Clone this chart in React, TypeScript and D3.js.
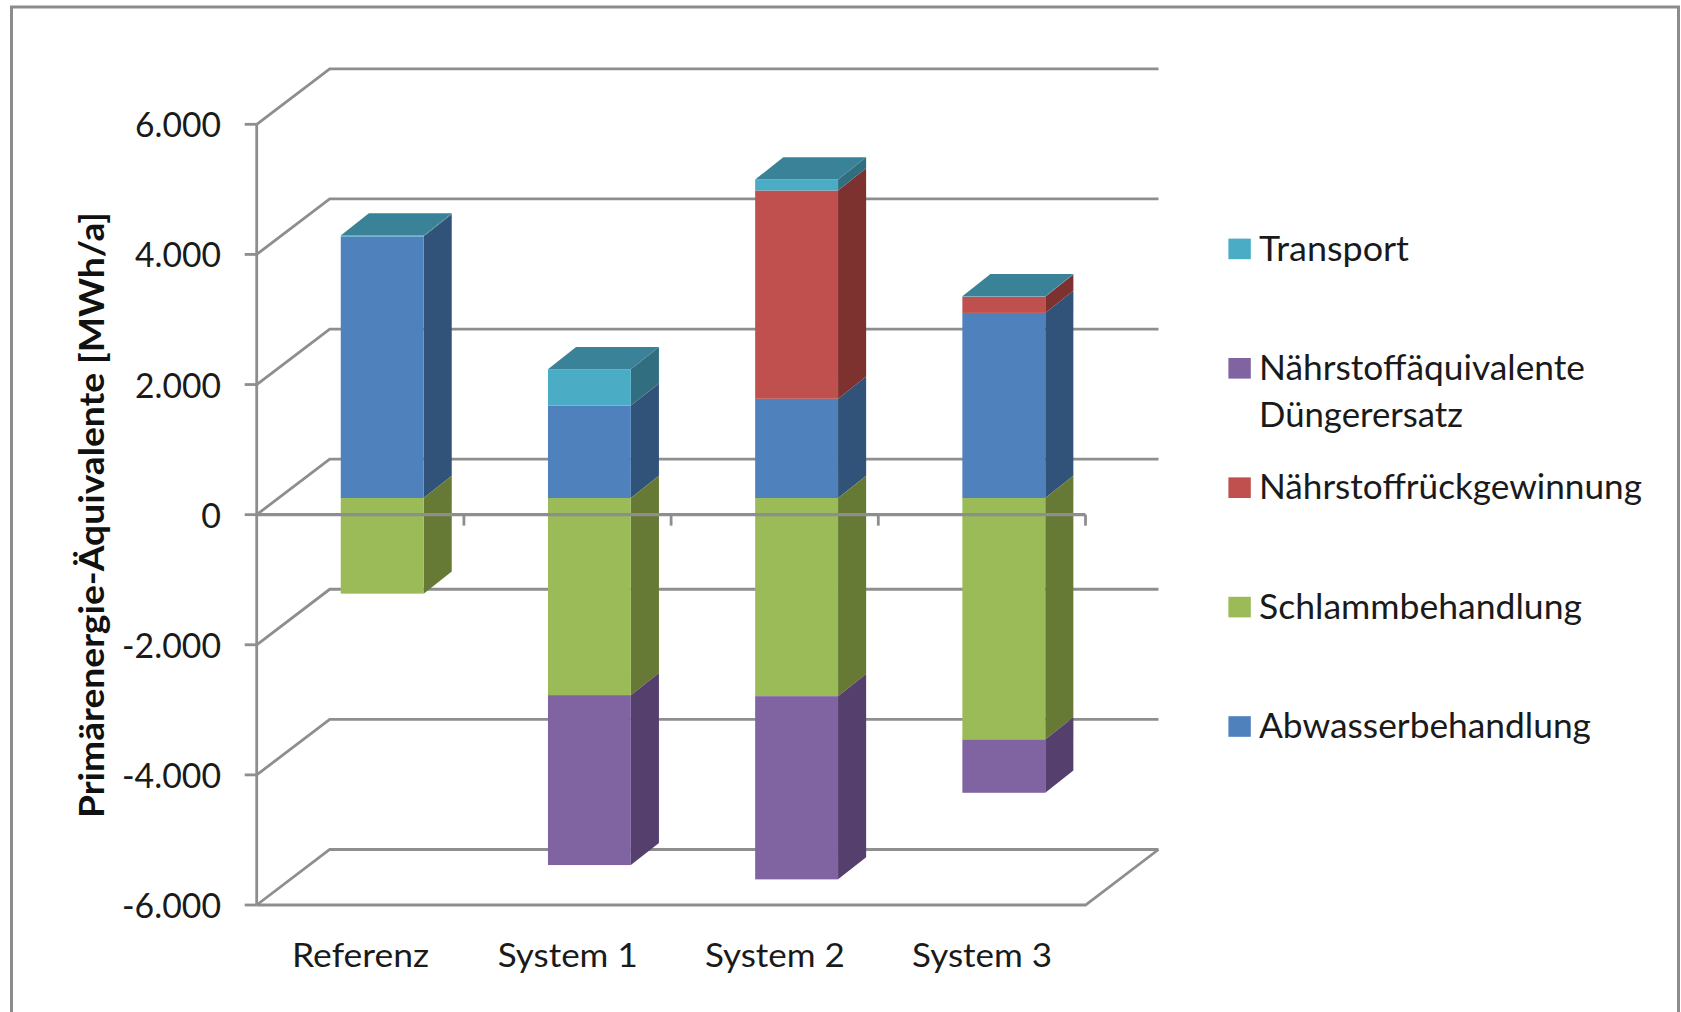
import React from "react";
import * as d3 from "d3";

// Primary energy balance per system, MWh/a
const categories = ["Referenz", "System 1", "System 2", "System 3"];
const abwasser = [4020, 1420, 1525, 2845];
const schlamm = [-1470, -3030, -3046, -3711];
const rueckgewinnung = [0, 0, 3201, 250];
const aequivalente = [0, -2612, -2816, -820];
const transport = [15, 559, 169, 6];
const yTicks = [6000, 4000, 2000, 0, -2000, -4000, -6000];
const yTickLabels = ["6.000", "4.000", "2.000", "0", "-2.000", "-4.000", "-6.000"];

const seriesKeys = ["abwasser", "schlamm", "rueckgewinnung", "aequivalente", "transport"];
const seriesValues: Record<string, number[]> = { abwasser, schlamm, rueckgewinnung, aequivalente, transport };
const frontColors: Record<string, string> = {
  abwasser: "#4f81bd",
  schlamm: "#9bbb59",
  rueckgewinnung: "#c0504d",
  aequivalente: "#8064a2",
  transport: "#4bacc6",
};
const sideColors: Record<string, string> = {
  abwasser: "#325379",
  schlamm: "#667a35",
  rueckgewinnung: "#7d3230",
  aequivalente: "#543f6d",
  transport: "#316f80",
};
const topColor = "#3a8297";
const gridColor = "#8e8e8e";
const textColor = "#1a1a1a";

const legendRows = [
  { key: "transport", lines: [{ t: "Transport", w: 150 }] },
  { key: "aequivalente", lines: [{ t: "Nährstoffäquivalente", w: 326 }, { t: "Düngerersatz", w: 204 }] },
  { key: "rueckgewinnung", lines: [{ t: "Nährstoffrückgewinnung", w: 383 }] },
  { key: "schlamm", lines: [{ t: "Schlammbehandlung", w: 323 }] },
  { key: "abwasser", lines: [{ t: "Abwasserbehandlung", w: 332 }] },
];

const WIDTH = 1681;
const HEIGHT = 1012;
const FONT = "Lato, 'Open Sans', sans-serif";

// Oblique depth of the floor and position of the bars within it
const DEPTH_X = 73;
const DEPTH_Y = 55.5;
const BAR_NEAR = 0.3;
const BAR_FAR = 0.685;

const y = d3.scaleLinear().domain([-6000, 6000]).range([905, 124.3]);
const x = d3
  .scaleBand<string>()
  .domain(categories)
  .range([256.7, 1085.5])
  .paddingInner(0.6)
  .paddingOuter(0.3);
const tickX = d3.scaleLinear().domain([0, categories.length]).range([256.7, 1085.5]);

const rows = categories.map((c, i) => {
  const row: Record<string, number | string> = { category: c };
  seriesKeys.forEach((k) => (row[k] = seriesValues[k][i]));
  return row;
});
const stacked = d3
  .stack<any>()
  .keys(seriesKeys)
  .offset(d3.stackOffsetDiverging)(rows);

const poly = (pts: [number, number][]) => pts.map((p) => p.join(",")).join(" ");

function Bar({ index }: { index: number }) {
  const category = categories[index];
  const x0 = (x(category) as number) + DEPTH_X * BAR_NEAR;
  const x1 = x0 + x.bandwidth();
  const lift = DEPTH_Y * BAR_NEAR;
  const dx = DEPTH_X * (BAR_FAR - BAR_NEAR);
  const dy = DEPTH_Y * (BAR_FAR - BAR_NEAR) + 0.8;
  const segments = stacked
    .map((s) => ({ key: s.key, lo: s[index][0], hi: s[index][1] }))
    .filter((s) => s.hi !== s.lo);
  const top = Math.max(...segments.map((s) => s.hi));
  return (
    <g>
      {segments.map((s) => {
        const ya = y(s.hi) - lift;
        const yb = y(s.lo) - lift;
        return (
          <g key={s.key}>
            <polygon
              points={poly([[x1, ya], [x1 + dx, ya - dy], [x1 + dx, yb - dy], [x1, yb]])}
              fill={sideColors[s.key]}
            />
            <rect x={x0} y={ya} width={x1 - x0} height={yb - ya} fill={frontColors[s.key]} />
          </g>
        );
      })}
      <polygon
        points={poly([
          [x0, y(top) - lift],
          [x0 + dx, y(top) - lift - dy],
          [x1 + dx, y(top) - lift - dy],
          [x1, y(top) - lift],
        ])}
        fill={topColor}
      />
    </g>
  );
}

export default function App() {
  const [left, right] = [tickX(0), tickX(categories.length)];
  const stroke = { stroke: gridColor, strokeWidth: 2.8, fill: "none" };
  return (
    <svg
      width={WIDTH}
      height={HEIGHT}
      viewBox={`0 0 ${WIDTH} ${HEIGHT}`}
      style={{ position: "absolute", left: 0, top: 0, background: "#fff" }}
    >
      {/* outer frame, open past the lower edge of the page */}
      <rect x={11.5} y={7} width={1667} height={1030} fill="#fff" stroke="#8c8c8c" strokeWidth={3} />

      {/* back wall and side wall gridlines */}
      {yTicks.map((t) => (
        <polyline
          key={t}
          points={poly([
            [left, y(t)],
            [left + DEPTH_X, y(t) - DEPTH_Y],
            [right + DEPTH_X, y(t) - DEPTH_Y],
          ])}
          {...stroke}
        />
      ))}
      {/* floor */}
      <polyline
        points={poly([
          [left, y(-6000)],
          [right, y(-6000)],
          [right + DEPTH_X, y(-6000) - DEPTH_Y],
        ])}
        {...stroke}
      />

      {categories.map((c, i) => (
        <Bar key={c} index={i} />
      ))}

      {/* value axis */}
      <line x1={left} x2={left} y1={y(6000)} y2={y(-6000)} {...stroke} />
      {yTicks.map((t, i) => (
        <g key={t}>
          <line x1={left - 12} x2={left} y1={y(t)} y2={y(t)} {...stroke} />
          <text
            x={221}
            y={y(t) + 13}
            textAnchor="end"
            fontFamily={FONT}
            fontSize={34}
            fill={textColor}
            textLength={i === 3 ? undefined : t < 0 ? 99 : 86}
            lengthAdjust="spacingAndGlyphs"
          >
            {yTickLabels[i]}
          </text>
        </g>
      ))}

      {/* category axis along zero */}
      <line x1={left} x2={right} y1={y(0)} y2={y(0)} stroke={gridColor} strokeWidth={3.2} />
      {categories.map((c, i) => (
        <g key={c}>
          <line x1={tickX(i + 1)} x2={tickX(i + 1)} y1={y(0)} y2={y(0) + 11} {...stroke} />
          <text
            x={360.5 + i * 207.2}
            y={966.5}
            textAnchor="middle"
            fontFamily={FONT}
            fontSize={33}
            fill={textColor}
            textLength={i === 0 ? 137 : 140}
            lengthAdjust="spacingAndGlyphs"
          >
            {c}
          </text>
        </g>
      ))}

      {/* axis title */}
      <text
        transform="translate(103.5,515) rotate(-90)"
        textAnchor="middle"
        fontFamily={FONT}
        fontWeight={700}
        fontSize={34}
        fill="#111"
        textLength={606}
        lengthAdjust="spacingAndGlyphs"
      >
        Primärenergie-Äquivalente  [MWh/a]
      </text>

      {/* legend */}
      {legendRows.map((row, i) => {
        const top = 238.6 + i * 119.4;
        return (
          <g key={row.key}>
            <rect x={1228.4} y={top} width={22.4} height={20.6} fill={frontColors[row.key]} />
            {row.lines.map((line, j) => (
              <text
                key={line.t}
                x={1259}
                y={top + 22 + j * 47}
                fontFamily={FONT}
                fontSize={34}
                fill={textColor}
                textLength={line.w}
                lengthAdjust="spacingAndGlyphs"
              >
                {line.t}
              </text>
            ))}
          </g>
        );
      })}
    </svg>
  );
}
